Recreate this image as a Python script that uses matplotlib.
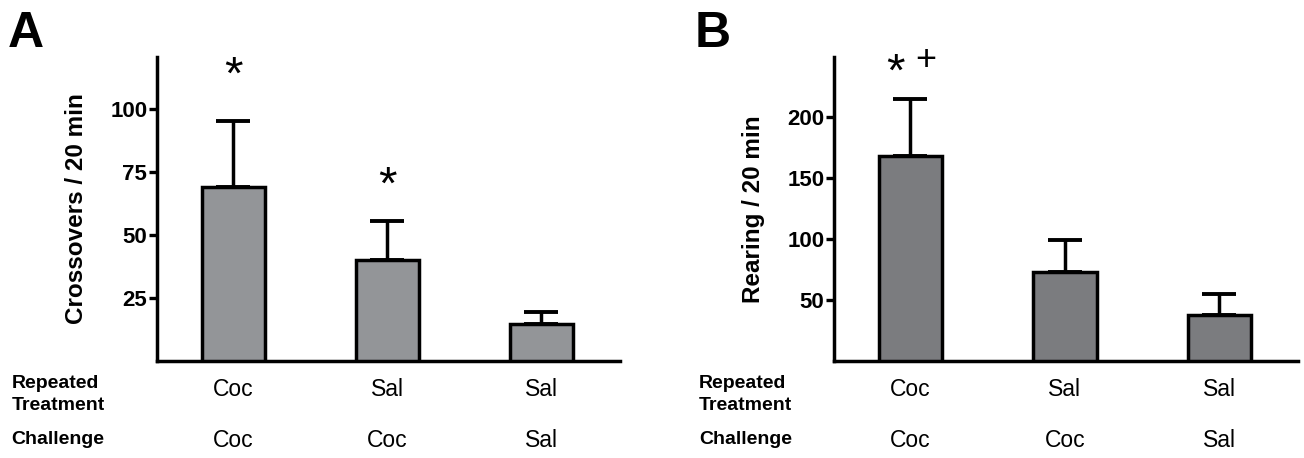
import numpy as np
import matplotlib
matplotlib.use("Agg")
import matplotlib.pyplot as plt
from matplotlib.transforms import blended_transform_factory

plt.rcParams['font.family'] = ['Liberation Sans', 'DejaVu Sans']

# data
groups = ["Coc", "Sal", "Sal"]
challenge = ["Coc", "Coc", "Sal"]
crossovers = [69, 40, 14.5]
crossovers_sem = [26, 15.5, 5]
rearing = [168, 73, 38]
rearing_sem = [47, 26, 17]

fig = plt.figure(figsize=(13.04, 4.58), dpi=100)
axA = fig.add_axes([0.1204, 0.2118, 0.3551, 0.6637])
axB = fig.add_axes([0.6396, 0.2118, 0.3558, 0.6637])


def barPanel(ax, vals, sem, color, ylim, yticks, ylabel):
    x = np.arange(len(vals))
    ax.bar(x, vals, width=0.41, color=color, edgecolor='black', linewidth=2.5, zorder=3)
    ax.errorbar(x, vals, yerr=[np.zeros(len(vals)), sem], fmt='none', ecolor='black',
                elinewidth=2.5, capsize=12, capthick=2.8, zorder=2)
    ax.set_xlim(-0.495, 2.51)
    ax.set_ylim(*ylim)
    ax.set_yticks(yticks)
    ax.set_xticks([])
    for s in ['top', 'right']:
        ax.spines[s].set_visible(False)
    for s in ['left', 'bottom']:
        ax.spines[s].set_linewidth(2.5)
    ax.tick_params(axis='y', direction='out', length=6, width=2.4, labelsize=16, pad=1)
    for lab in ax.get_yticklabels():
        lab.set_fontweight('bold')
    ax.set_ylabel(ylabel, fontsize=17.5, fontweight='bold', labelpad=16)
    trans = blended_transform_factory(ax.transData, ax.transAxes)
    for i in x:
        ax.text(i, -0.095, groups[i], transform=trans, ha='center', va='center', fontsize=16.5)
        ax.text(i, -0.262, challenge[i], transform=trans, ha='center', va='center', fontsize=16.5)
    return ax


barPanel(axA, crossovers, crossovers_sem, '#939598', (0, 120.5), [25, 50, 75, 100], "Crossovers / 20 min")
barPanel(axB, rearing, rearing_sem, '#7b7c7f', (0, 249), [50, 100, 150, 200], "Rearing / 20 min")

axA.text(0, 112.5, "*", ha='center', va='center', fontsize=34)
axA.text(1, 69, "*", ha='center', va='center', fontsize=34)
axB.text(-0.1, 235, "*", ha='center', va='center', fontsize=34)
axB.text(0.1, 246, "+", ha='center', va='center', fontsize=26)

for xl, letter in [(0.006, "A"), (0.533, "B")]:
    fig.text(xl, 0.975, letter, fontsize=36, fontweight='bold', va='top', ha='left')
    fig.text(xl + 0.003, 1 - 383 / 458, "Repeated", fontsize=14, fontweight='bold', va='center')
    fig.text(xl + 0.003, 1 - 405 / 458, "Treatment", fontsize=14, fontweight='bold', va='center')
    fig.text(xl + 0.003, 1 - 440 / 458, "Challenge", fontsize=14, fontweight='bold', va='center')

fig.savefig("out.png", dpi=100)
